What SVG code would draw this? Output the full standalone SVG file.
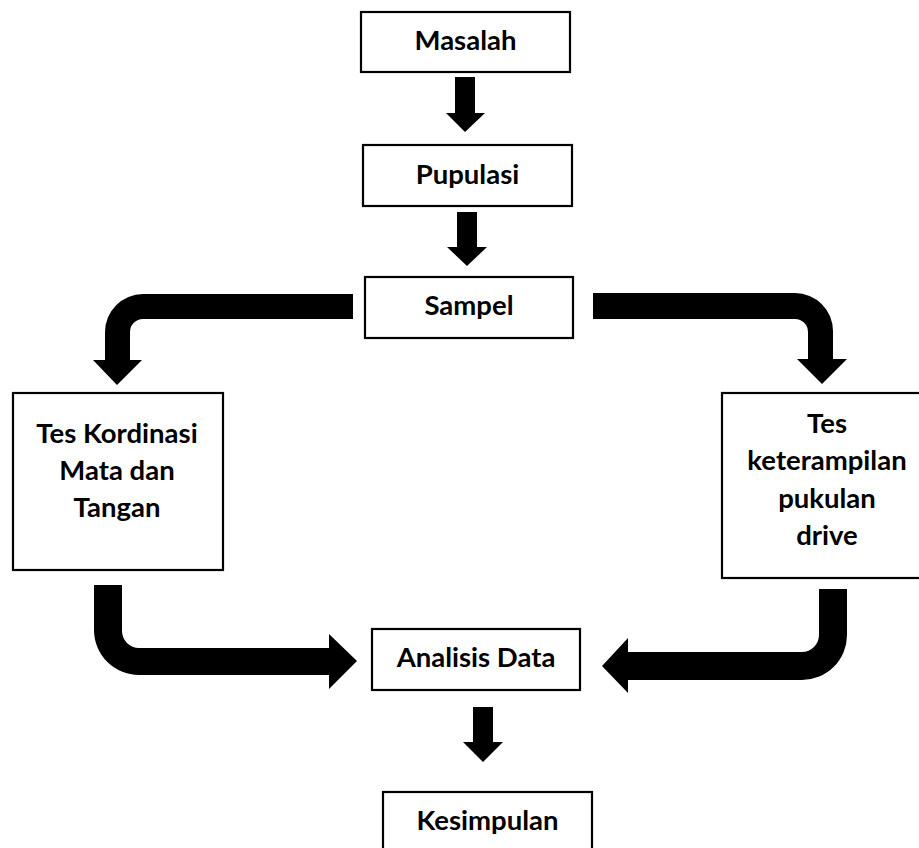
<svg xmlns="http://www.w3.org/2000/svg" width="919" height="848" viewBox="0 0 919 848">
<style>
.box{fill:#fff;stroke:#000;stroke-width:2.2}
.t{font-family:Lato,"Liberation Sans",sans-serif;font-weight:bold;font-size:27.5px;fill:#000;text-anchor:middle}
.arr{fill:#000;stroke:none}
</style>
<rect width="919" height="848" fill="#fff"/>
<g id="masalah"><rect class="box" x="361" y="12" width="209" height="60"/><text class="t" x="465.5" y="50">Masalah</text></g>
<g id="pupulasi"><rect class="box" x="363" y="145" width="209" height="61"/><text class="t" x="467.5" y="184">Pupulasi</text></g>
<g id="sampel"><rect class="box" x="365" y="277" width="208" height="61"/><text class="t" x="469" y="315">Sampel</text></g>
<g id="tes-kordinasi"><rect class="box" x="13" y="393" width="210" height="177"/>
<text class="t" x="117" y="443">Tes Kordinasi</text><text class="t" x="117" y="480">Mata dan</text><text class="t" x="117" y="517">Tangan</text></g>
<g id="tes-keterampilan"><rect class="box" x="722" y="393" width="210" height="185"/>
<text class="t" x="827" y="433">Tes</text><text class="t" x="827" y="470">keterampilan</text><text class="t" x="827" y="508">pukulan</text><text class="t" x="827" y="545">drive</text></g>
<g id="analisis"><rect class="box" x="372" y="629" width="208" height="61"/><text class="t" x="476" y="667">Analisis Data</text></g>
<g id="kesimpulan"><rect class="box" x="383" y="792" width="209" height="70"/><text class="t" x="487.5" y="830">Kesimpulan</text></g>
<g id="connectors">
<path class="arr" d="M455 77 H475 V113 H485 L465 132 L446 113 H455 Z"/>
<path class="arr" d="M457 212 H477 V247 H487 L467 266 L447 247 H457 Z"/>
<path class="arr" d="M473 707 H493 V742 H503 L483 762 L463 742 H473 Z"/>
<path class="arr" d="M353 294 L143 294 A38 38 0 0 0 105 332 L105 360 L93 360 L117 385 L142 360 L130 360 L130 332 A13 13 0 0 1 143 319 L353 319 Z"/>
<path class="arr" d="M593 293 L795 293 A38 38 0 0 1 833 331 L833 359 L847 359 L822 384 L797 359 L808 359 L808 332 A13 13 0 0 0 795 319 L593 319 Z"/>
<path class="arr" d="M94 585 L94 630 A45 45 0 0 0 139 675 L329 675 L329 689 L357 661 L329 634 L329 648 L139 648 A17 17 0 0 1 122 631 L122 585 Z"/>
<path class="arr" d="M847 589 L847 635 A45 45 0 0 1 802 680 L628 680 L628 693 L602 666 L628 638 L628 652 L802 652 A17 17 0 0 0 819 635 L819 589 Z"/>
</g>
</svg>
